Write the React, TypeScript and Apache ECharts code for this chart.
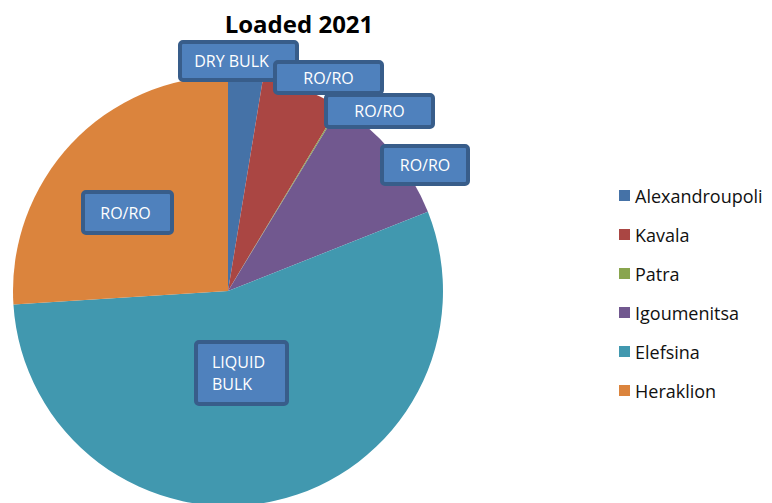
import React, { useEffect, useRef } from "react";
import * as echarts from "echarts";

const ports = ["Alexandroupoli", "Kavala", "Patra", "Igoumenitsa", "Elefsina", "Heraklion"];
const shares = [2.6, 6.0, 0.1, 10.3, 55.0, 26.0];
const cargoLabels = ["DRY BULK", "RO/RO", "RO/RO", "RO/RO", "LIQUID\nBULK", "RO/RO"];
const colors = ["#4572A7", "#AA4643", "#89A54E", "#71588F", "#4198AF", "#DB843D"];

// label boxes: [centerX, centerY, width, height] (outer, in px)
const labelBoxes: number[][] = [
  [238.5, 61, 117, 38],
  [328.5, 77.5, 107, 31],
  [379.5, 111, 107, 32],
  [425, 165, 86, 38],
  [241.5, 373, 91, 62],
  [127.5, 212.5, 89, 41],
];
// text padding inside boxes: [top, right, bottom, left]
const labelPads: number[][] = [
  [0, 14, 0, 0],
  [8, 0, 0, 0],
  [5, 0, 0, 0],
  [2, 0, 0, 0],
  [0, 0, 0, 14],
  [0, 4, 0, 0],
];

export default function App() {
  const ref = useRef<HTMLDivElement>(null);
  useEffect(() => {
    if (!ref.current) return;
    const chart = echarts.init(ref.current, null, { renderer: "svg" });
    const font = "'Open Sans', 'Liberation Sans', sans-serif";
    const data = ports.map((name, i) => {
      const b = labelBoxes[i];
      const p = labelPads[i];
      const multi = cargoLabels[i].includes("\n");
      return {
        name,
        value: shares[i],
        itemStyle: { color: colors[i] },
        label: {
          formatter: cargoLabels[i],
          width: b[2] - 4 - p[1] - p[3],
          height: b[3] - 4 - p[0] - p[2],
          padding: p,
          align: multi ? "left" : "center",
          lineHeight: multi ? 22 : 20,
        },
      };
    });
    chart.setOption({
      animation: false,
      title: {
        text: "Loaded 2021",
        left: 294,
        top: 6,
        textAlign: "center",
        textStyle: { fontFamily: font, fontWeight: "bold", fontSize: 24, color: "#000" },
      },
      legend: {
        orient: "vertical",
        left: 614,
        top: 180,
        itemWidth: 11,
        itemHeight: 11,
        itemGap: 18,
        icon: "rect",
        selectedMode: false,
        data: ports,
        textStyle: { fontFamily: font, fontSize: 18, color: "#111", lineHeight: 21 },
      },
      series: [
        {
          type: "pie",
          center: [228, 291],
          radius: 215,
          startAngle: 90,
          clockwise: true,
          avoidLabelOverlap: false,
          silent: true,
          emphasis: { disabled: true },
          itemStyle: { borderWidth: 0 },
          labelLine: { show: false },
          label: {
            show: true,
            position: "inside",
            color: "#fff",
            fontFamily: font,
            fontSize: 16,
            backgroundColor: "#4F81BD",
            borderColor: "#385D8A",
            borderWidth: 4,
            borderRadius: 1,
            verticalAlign: "middle",
          },
          labelLayout: (params: any) => {
            const b = labelBoxes[params.dataIndex];
            const multi = cargoLabels[params.dataIndex].includes("\n");
            return {
              x: multi ? b[0] - b[2] / 2 + 2 : b[0],
              y: b[1],
              align: multi ? "left" : "center",
              verticalAlign: "middle",
            };
          },
          data,
        },
      ],
    });
    return () => chart.dispose();
  }, []);
  return (
    <div
      ref={ref}
      style={{ position: "absolute", left: 0, top: 0, width: 772, height: 503, background: "#fff" }}
    />
  );
}
